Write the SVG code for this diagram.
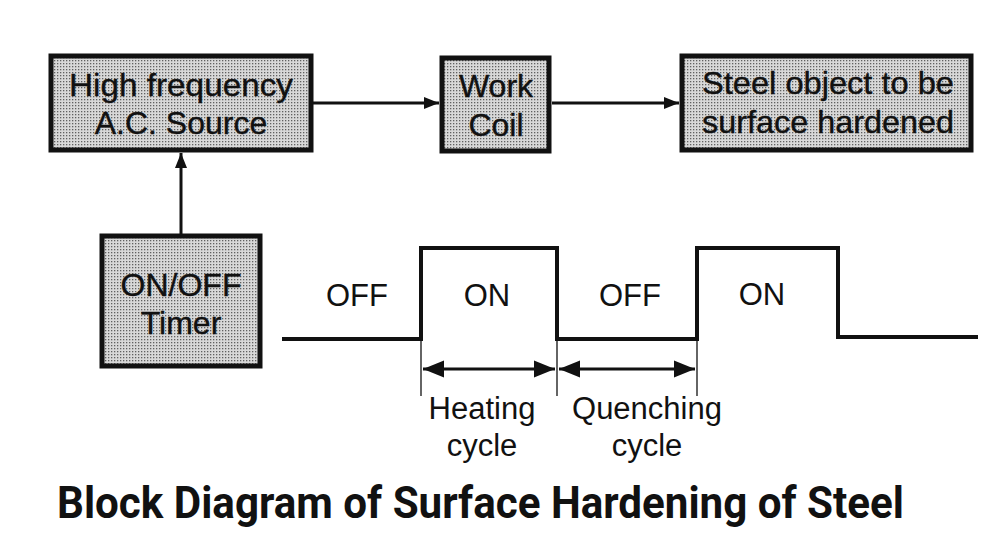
<svg xmlns="http://www.w3.org/2000/svg" width="1000" height="546" viewBox="0 0 1000 546">
<defs>
<pattern id="dots" width="3" height="3" patternUnits="userSpaceOnUse">
<rect width="3" height="3" fill="#d8d8d8"/>
<rect x="0" y="0" width="1.3" height="1.3" fill="#606060"/>
</pattern>
<marker id="ah" viewBox="0 0 10 10" refX="10" refY="5" markerWidth="5" markerHeight="5" orient="auto-start-reverse" markerUnits="strokeWidth">
<path d="M0,1 L10,5 L0,9 z" fill="#111"/>
</marker>
<marker id="dh" viewBox="0 0 10 10" refX="10" refY="5" markerWidth="7" markerHeight="7" orient="auto-start-reverse" markerUnits="strokeWidth">
<path d="M0,1 L10,5 L0,9 z" fill="#111"/>
</marker>
</defs>
<style>
.box{fill:url(#dots);stroke:#111;stroke-width:5}
.bt{font-family:"Liberation Sans",Arial,sans-serif;font-size:32px;fill:#111;text-anchor:middle;stroke:#111;stroke-width:0.4}
.lbl{font-family:"Liberation Sans",Arial,sans-serif;font-size:31px;fill:#111;text-anchor:middle}
.conn{stroke:#111;stroke-width:3;fill:none}
.wave{stroke:#111;stroke-width:4;fill:none}
.ext{stroke:#111;stroke-width:1.3;fill:none}
.title{font-family:"Roboto","Liberation Sans",sans-serif;font-weight:bold;font-size:44px;fill:#111}
</style>
<rect width="1000" height="546" fill="#ffffff"/>
<g id="source">
<rect class="box" x="51" y="56" width="260" height="94"/>
<text class="bt" x="181" y="96" textLength="224" lengthAdjust="spacingAndGlyphs">High frequency</text>
<text class="bt" x="181" y="134">A.C. Source</text>
</g>
<g id="workcoil">
<rect class="box" x="442" y="58" width="107" height="93"/>
<text class="bt" x="496" y="97">Work</text>
<text class="bt" x="496" y="136">Coil</text>
</g>
<g id="steel">
<rect class="box" x="682" y="56" width="289" height="94"/>
<text class="bt" x="828" y="94" textLength="252" lengthAdjust="spacingAndGlyphs">Steel object to be</text>
<text class="bt" x="828" y="133" textLength="252" lengthAdjust="spacingAndGlyphs">surface hardened</text>
</g>
<g id="timer">
<rect class="box" x="102" y="236" width="158" height="130"/>
<text class="bt" x="181" y="296">ON/OFF</text>
<text class="bt" x="181" y="334">Timer</text>
</g>
<g id="connectors">
<line class="conn" x1="313" y1="103" x2="439" y2="103" marker-end="url(#ah)"/>
<line class="conn" x1="552" y1="103" x2="679" y2="103" marker-end="url(#ah)"/>
<line class="conn" x1="181" y1="234" x2="181" y2="153" marker-end="url(#ah)"/>
</g>
<g id="waveform">
<polyline class="wave" points="282,339 421,339 421,248 557,248 557,339 697,339 697,248 838,248 838,337 978,337"/>
<line class="ext" x1="421" y1="339" x2="421" y2="396"/>
<line class="ext" x1="557" y1="339" x2="557" y2="396"/>
<line class="ext" x1="697" y1="339" x2="697" y2="396"/>
<line class="conn" x1="423" y1="369" x2="555" y2="369" stroke-width="2" marker-start="url(#dh)" marker-end="url(#dh)"/>
<line class="conn" x1="559" y1="369" x2="695" y2="369" stroke-width="2" marker-start="url(#dh)" marker-end="url(#dh)"/>
<text class="lbl" x="357" y="306">OFF</text>
<text class="lbl" x="487" y="306">ON</text>
<text class="lbl" x="630" y="306">OFF</text>
<text class="lbl" x="762" y="305">ON</text>
<text class="lbl" x="482" y="419">Heating</text>
<text class="lbl" x="647" y="419">Quenching</text>
<text class="lbl" x="482" y="456">cycle</text>
<text class="lbl" x="647" y="456">cycle</text>
</g>
<text class="title" x="57" y="518" textLength="847" lengthAdjust="spacingAndGlyphs">Block Diagram of Surface Hardening of Steel</text>
</svg>
